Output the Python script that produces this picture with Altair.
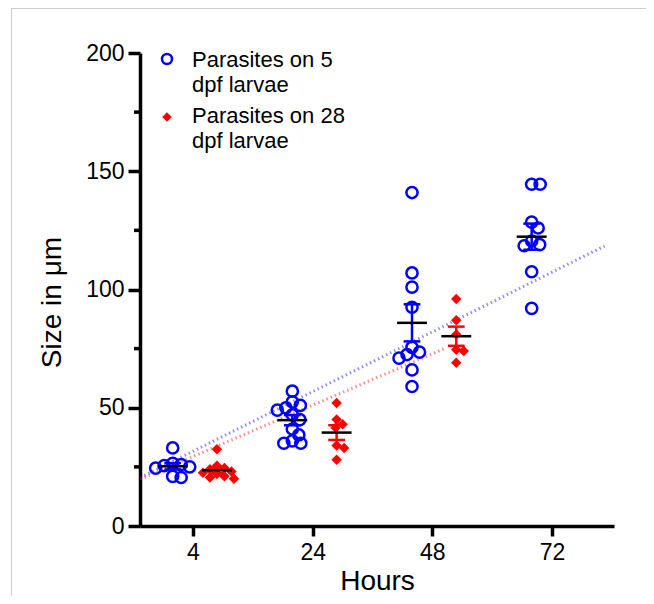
import altair as alt
import pandas as pd
import numpy as np

# ---------------- data ----------------
hours = ["4", "24", "48", "72"]
series_names = ["Parasites on 5 dpf larvae", "Parasites on 28 dpf larvae"]
legend_lines_blue = ["Parasites on 5", "dpf larvae"]
legend_lines_red = ["Parasites on 28", "dpf larvae"]

blue_4 = [33, 26.5, 26, 25.5, 25, 24.5, 21, 20.5]
blue_24 = [57, 52.5, 51, 50, 49, 47, 45, 41, 38.5, 36, 35, 35]
blue_48 = [141, 107, 101, 92.5, 75.5, 73.5, 72.5, 71, 66, 59]
blue_72 = [144.5, 144.5, 128.5, 126, 120.5, 119, 118.5, 107.5, 92]

red_4 = [32.5, 25.5, 24.5, 24, 23, 22.5, 22, 21, 20.5, 20]
red_24 = [52, 45, 43, 41.5, 34, 33, 28]
red_48 = [96, 87, 81, 74.5, 74, 69]

# dotted trend lines (x in category-position units, 1 = "4" ... 4 = "72")
trend_blue_x = [0.56, 4.44]
trend_blue_y = [20.5, 118.4]
trend_red_x = [0.56, 3.1]
trend_red_y = [19.8, 75.0]

y_major = [0, 50, 100, 150, 200]
y_minor = [25, 75, 125, 175]

# ---------------- layout ----------------
W, H = 474, 473
X_DOM = [0.557, 4.518]
Y_DOM = [0, 200]
PX_X = W / (X_DOM[1] - X_DOM[0])
PX_Y = H / (Y_DOM[1] - Y_DOM[0])
FONT = "Liberation Sans"
BLUE = "#0000ff"
RED = "#ff0000"


def swarm(values, diam):
    """simple beeswarm offsets (in category units)"""
    placed = []
    res = [0.0] * len(values)
    order = sorted(range(len(values)), key=lambda i: -values[i])
    for i in order:
        y = values[i] * PX_Y
        best = None
        for k in range(0, 200):
            for s in ([0] if k == 0 else [1, -1]):
                x = s * k * 0.5
                if all((x - px) ** 2 + (y - py) ** 2 >= diam ** 2 for px, py in placed):
                    best = x
                    break
            if best is not None:
                break
        placed.append((best, y))
        res[i] = best / PX_X
    return res


groups = [
    (series_names[0], 1, blue_4), (series_names[0], 2, blue_24),
    (series_names[0], 3, blue_48), (series_names[0], 4, blue_72),
    (series_names[1], 1, red_4), (series_names[1], 2, red_24),
    (series_names[1], 3, red_48),
]
dodge = {series_names[0]: -0.17, series_names[1]: 0.2}
diam = {series_names[0]: 8.5, series_names[1]: 7.5}

rows, stats = [], []
for s, idx, vals in groups:
    offs = swarm(vals, diam[s])
    c = idx + dodge[s]
    for v, o in zip(vals, offs):
        rows.append({"series": s, "x": c + o, "value": v})
    arr = np.array(vals, dtype=float)
    m = arr.mean()
    sem = arr.std(ddof=1) / np.sqrt(len(arr))
    stats.append({"series": s, "xc": c, "mean": m, "lo": m - sem, "hi": m + sem,
                  "cl": c - 0.07, "cr": c + 0.07, "ml": c - 0.125, "mr": c + 0.125})
pts = pd.DataFrame(rows)
st = pd.DataFrame(stats)

trend = pd.DataFrame({
    "series": [series_names[0]] * 2 + [series_names[1]] * 2,
    "x": trend_blue_x + trend_red_x,
    "y": trend_blue_y + trend_red_y,
})

xscale = alt.Scale(domain=X_DOM, nice=False, zero=False)
yscale = alt.Scale(domain=Y_DOM, nice=False, zero=False)
cscale = alt.Scale(domain=series_names, range=[BLUE, RED])

label_expr = "[" + ",".join("'%s'" % h for h in hours) + "][datum.value - 1]"

x_axis = alt.Axis(values=[1, 2, 3, 4], labelExpr=label_expr, grid=False,
                  domainColor="black", domainWidth=3.5, tickColor="black",
                  tickWidth=3.5, tickSize=10, labelFontSize=23, labelPadding=5,
                  labelColor="black", labelFont=FONT, title="Hours",
                  titleFontSize=28, titleFontWeight="normal", titleColor="black",
                  titleFont=FONT, titleY=63, titleBaseline="alphabetic")
y_axis = alt.Axis(values=y_major, grid=False, domainColor="black", domainWidth=3.5,
                  tickColor="black", tickWidth=3.5, tickSize=12, labelFontSize=23,
                  labelPadding=4, labelColor="black", labelFont=FONT,
                  title="Size in μm", titleFontSize=28, titleFontWeight="normal",
                  titleColor="black", titleFont=FONT, titleAngle=270, titleX=-80,
                  titleY=249, titleAlign="center", titleBaseline="alphabetic")


def X(f):
    return alt.X(f, scale=xscale, axis=x_axis)


def Y(f):
    return alt.Y(f, scale=yscale, axis=y_axis)


trend_layer = alt.Chart(trend).mark_line(strokeDash=[1.5, 3], strokeWidth=3, opacity=0.45).encode(
    x=X("x:Q"), y=Y("y:Q"),
    color=alt.Color("series:N", scale=cscale, legend=None),
    detail="series:N",
)

blue_pts = alt.Chart(pts[pts.series == series_names[0]]).mark_point(
    shape="circle", filled=False, strokeWidth=2.5, size=125, color=BLUE, opacity=1
).encode(x=X("x:Q"), y=Y("value:Q"))
red_pts = alt.Chart(pts[pts.series == series_names[1]]).mark_point(
    shape="diamond", filled=True, size=110, color=RED, opacity=1
).encode(x=X("x:Q"), y=Y("value:Q"))

base = alt.Chart(st)
sem_v = base.mark_rule(strokeWidth=2.5).encode(
    x=X("xc:Q"), y=Y("lo:Q"), y2="hi:Q",
    color=alt.Color("series:N", scale=cscale, legend=None))
cap_hi = base.mark_rule(strokeWidth=2.5).encode(
    x=X("cl:Q"), x2="cr:Q", y=Y("hi:Q"),
    color=alt.Color("series:N", scale=cscale, legend=None))
cap_lo = base.mark_rule(strokeWidth=2.5).encode(
    x=X("cl:Q"), x2="cr:Q", y=Y("lo:Q"),
    color=alt.Color("series:N", scale=cscale, legend=None))
mean_l = base.mark_rule(strokeWidth=2.5, color="black").encode(
    x=X("ml:Q"), x2="mr:Q", y=Y("mean:Q"))

minor = alt.Chart(pd.DataFrame({"v": y_minor})).mark_rule(strokeWidth=3.5, color="black").encode(
    y=Y("v:Q"), x=alt.value(-6), x2=alt.value(0))

one = pd.DataFrame({"a": [0]})


def ltext(txt, x, y):
    return alt.Chart(one).mark_text(text=txt, align="left", baseline="middle", fontSize=22,
                                    font=FONT, color="black").encode(x=alt.value(x), y=alt.value(y))


leg_blue = alt.Chart(one).mark_point(shape="circle", filled=False, strokeWidth=2.5, size=100,
                                     color=BLUE, opacity=1).encode(x=alt.value(27), y=alt.value(6))
leg_red = alt.Chart(one).mark_point(shape="diamond", filled=True, size=90, color=RED,
                                    opacity=1).encode(x=alt.value(27), y=alt.value(64))

frame_left = alt.Chart(one).mark_rule(color="#cccccc", strokeWidth=1).encode(
    x=alt.value(-128.5), y=alt.value(-45), y2=alt.value(H + 70))
frame_top = alt.Chart(one).mark_rule(color="#cccccc", strokeWidth=1).encode(
    x=alt.value(-128.5), x2=alt.value(W + 32), y=alt.value(-44.5))

chart = alt.layer(
    frame_left, frame_top,
    trend_layer, blue_pts, red_pts, sem_v, cap_hi, cap_lo, mean_l, minor,
    leg_blue, leg_red,
    ltext(legend_lines_blue[0], 52, 7), ltext(legend_lines_blue[1], 52, 32),
    ltext(legend_lines_red[0], 52, 63), ltext(legend_lines_red[1], 52, 88),
).properties(
    width=W, height=H, autosize="none",
    padding={"left": 132, "top": 45, "right": 32, "bottom": 70},
).configure(font=FONT).configure_view(stroke=None)

chart.save("out.html", embed_options={"renderer": "svg", "actions": False})
